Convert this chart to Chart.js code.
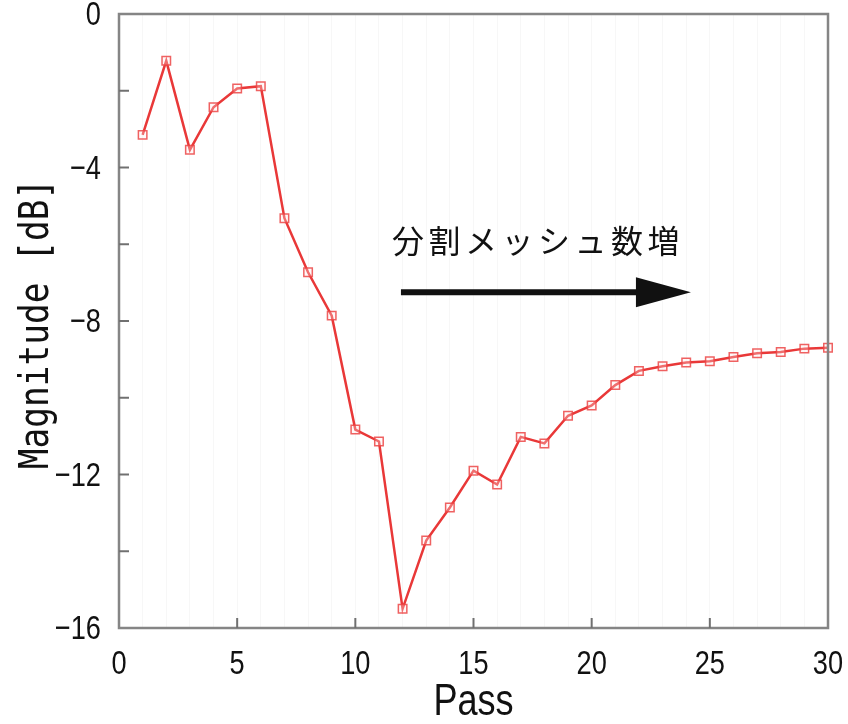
<!DOCTYPE html>
<html>
<head>
<meta charset="utf-8">
<script src="https://cdn.jsdelivr.net/npm/chart.js@4.4.0/dist/chart.umd.min.js"></script>
<style>
  html, body { margin: 0; padding: 0; background: #fff; }
  #wrap { width: 848px; height: 724px; }
</style>
</head>
<body>
<div id="wrap"><canvas id="chart" width="848" height="724"></canvas></div>
<script>
// データ
const passes = [1, 2, 3, 4, 5, 6, 7, 8, 9, 10, 11, 12, 13, 14, 15,
  16, 17, 18, 19, 20, 21, 22, 23, 24, 25, 26, 27, 28, 29, 30];
const magnitude = [-3.15, -1.22, -3.54, -2.43, -1.94, -1.88, -5.32, -6.73, -7.86, -10.83,
  -11.14, -15.5, -13.72, -12.86, -11.9, -12.26, -11.02, -11.19, -10.47, -10.2,
  -9.67, -9.3, -9.18, -9.08, -9.05, -8.94, -8.84, -8.81, -8.72, -8.7];
const xLabels = [0, 5, 10, 15, 20, 25, 30];
const yLabels = [0, -4, -8, -12, -16];
const xTitle = 'Pass';
const yTitle = 'Magnitude [dB]';
const noteText = '分割メッシュ数増';

const sans = '"Liberation Sans", Arial, sans-serif';
const mono = '"DejaVu Sans Mono", "Liberation Mono", monospace';

// 細い文字（横方向に縮めて描く）
function narrowText(ctx, text, x, y, sx) {
  ctx.save();
  ctx.translate(x, y);
  ctx.scale(sx, 1);
  ctx.fillText(text, 0, 0);
  ctx.restore();
}

// 枠、内向きの目盛り、目盛りラベル、軸タイトル、注記と矢印
const decor = {
  id: 'decor',
  afterDraw(chart) {
    const { ctx, chartArea: a } = chart;
    const xs = chart.scales.x, ys = chart.scales.y;
    ctx.save();
    ctx.strokeStyle = '#858585';
    ctx.lineWidth = 2.5;
    ctx.strokeRect(a.left, a.top, a.right - a.left, a.bottom - a.top);

    ctx.lineWidth = 2;
    ctx.strokeStyle = '#707070';
    ys.ticks.forEach(t => {
      if (t.value === 0 || t.value === -16) return;
      const y = ys.getPixelForValue(t.value);
      ctx.beginPath(); ctx.moveTo(a.left, y); ctx.lineTo(a.left + 10, y); ctx.stroke();
    });
    xs.ticks.forEach(t => {
      if (t.value % 5 !== 0 || t.value === 0 || t.value === 30) return;
      const x = xs.getPixelForValue(t.value);
      ctx.beginPath(); ctx.moveTo(x, a.bottom); ctx.lineTo(x, a.bottom - 10); ctx.stroke();
    });

    // 目盛りラベル
    ctx.fillStyle = '#111';
    ctx.font = '34px ' + sans;
    ctx.textAlign = 'right';
    ctx.textBaseline = 'middle';
    yLabels.forEach(v => {
      const s = v < 0 ? '\u2212' + Math.abs(v) : String(v);
      narrowText(ctx, s, a.left - 18, ys.getPixelForValue(v) + 2, 0.8);
    });
    ctx.textAlign = 'center';
    ctx.textBaseline = 'alphabetic';
    xLabels.forEach(v => {
      narrowText(ctx, String(v), xs.getPixelForValue(v), a.bottom + 46, 0.8);
    });

    // 軸タイトル
    ctx.font = '44px ' + sans;
    narrowText(ctx, xTitle, (a.left + a.right) / 2, 715, 0.82);
    ctx.save();
    ctx.translate(48, (a.top + a.bottom) / 2 + 3);
    ctx.rotate(-Math.PI / 2);
    ctx.font = '41px ' + mono;
    ctx.textAlign = 'center';
    narrowText(ctx, yTitle, 0, 0, 0.84);
    ctx.restore();

    // 注記
    ctx.fillStyle = '#111';
    ctx.font = '32px "Noto Sans CJK JP", sans-serif';
    ctx.letterSpacing = '4.5px';
    ctx.textAlign = 'left';
    ctx.textBaseline = 'middle';
    ctx.fillText(noteText, xs.getPixelForValue(11.55), ys.getPixelForValue(-5.9));
    ctx.letterSpacing = '0px';

    // 矢印
    const x0 = xs.getPixelForValue(11.93), x1 = xs.getPixelForValue(24.2);
    const ya = ys.getPixelForValue(-7.25);
    ctx.lineWidth = 6;
    ctx.strokeStyle = '#111';
    ctx.beginPath(); ctx.moveTo(x0, ya); ctx.lineTo(x1 - 40, ya); ctx.stroke();
    ctx.beginPath();
    ctx.moveTo(x1, ya);
    ctx.lineTo(x1 - 55, ya - 15);
    ctx.lineTo(x1 - 55, ya + 15);
    ctx.closePath();
    ctx.fill();
    ctx.restore();
  }
};

new Chart(document.getElementById('chart'), {
  type: 'line',
  data: {
    datasets: [{
      data: passes.map((p, i) => ({ x: p, y: magnitude[i] })),
      borderColor: '#e93838',
      borderWidth: 2.5,
      pointStyle: 'rect',
      pointRadius: 6,
      pointBorderWidth: 1.5,
      pointBorderColor: 'rgba(236,70,70,0.85)',
      pointBackgroundColor: 'rgba(255,235,235,0.3)',
      tension: 0,
      clip: false
    }]
  },
  options: {
    responsive: false,
    animation: false,
    layout: { padding: { top: 14, right: 20, left: 0, bottom: 0 } },
    plugins: { legend: { display: false }, tooltip: { enabled: false } },
    scales: {
      x: {
        type: 'linear',
        min: 0, max: 30,
        border: { display: false },
        grid: { color: 'rgba(0,0,0,0.03)', lineWidth: 1, drawTicks: false },
        ticks: { stepSize: 1, autoSkip: false, display: false },
        afterFit: s => { s.height = 96; }
      },
      y: {
        min: -16, max: 0,
        border: { display: false },
        grid: { display: false, drawTicks: false },
        ticks: { stepSize: 2, autoSkip: false, display: false },
        afterFit: s => { s.width = 119; }
      }
    }
  },
  plugins: [decor]
});
</script>
</body>
</html>
